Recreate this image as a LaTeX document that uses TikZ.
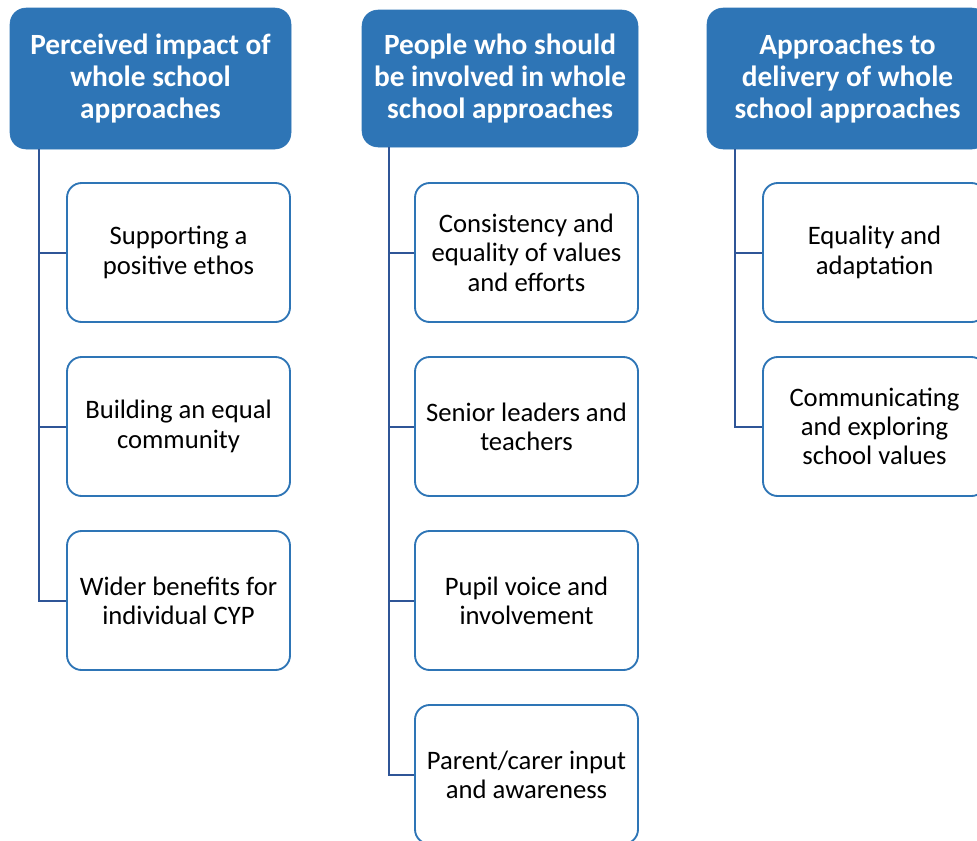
\documentclass[tikz,border=0pt]{standalone}
\usepackage{fontspec}
\setmainfont{Carlito}

\definecolor{headblue}{HTML}{2E75B6}
\definecolor{linkblue}{HTML}{2F5597}

\tikzset{
    headbox/.style={draw=headblue, fill=headblue, rounded corners=12pt,
        minimum width=210.75pt, minimum height=105.75pt, inner sep=0pt,
        align=center, text=white, font=\fontsize{22}{24}\selectfont\bfseries},
    itembox/.style={draw=headblue, line width=1.4pt, fill=white, rounded corners=11pt,
        minimum width=167.25pt, minimum height=104.25pt, inner sep=0pt,
        align=center, font=\fontsize{20}{22}\selectfont},
    link/.style={draw=linkblue, line width=1.5pt}
}

\begin{document}
\begin{tikzpicture}[x=0.75pt, y=-0.75pt]
    \clip (0,0) rectangle (977,840);
    \useasboundingbox (0,0) rectangle (977,840);

    % headings
    \node[headbox] (h1) at (150.5,78.5) {Perceived impact of\\whole school\\approaches};
    \node[headbox, minimum width=207pt, minimum height=102.75pt] (h2) at (500,78.5)
        {People who should\\be involved in whole\\school approaches};
    \node[headbox] (h3) at (847.5,78.5) {Approaches to\\delivery of whole\\school approaches};

    % first column
    \node[itembox] (a1) at (178.5,252.5) {Supporting a\\positive ethos};
    \node[itembox] (a2) at (178.5,426.5) {Building an equal\\community};
    \node[itembox] (a3) at (178.5,600.5) {Wider benefits for\\individual CYP};

    % second column
    \node[itembox] (b1) at (526.5,252.5) {Consistency and\\equality of values\\and efforts};
    \node[itembox] (b2) at (526.5,426.5) {Senior leaders and\\teachers};
    \node[itembox] (b3) at (526.5,600.5) {Pupil voice and\\involvement};
    \node[itembox] (b4) at (526.5,774.5) {Parent/carer input\\and awareness};

    % third column
    \node[itembox] (c1) at (874.5,252.5) {Equality and\\adaptation};
    \node[itembox] (c2) at (874.5,426.5) {Communicating\\and exploring\\school values};

    % stems under the headings
    \coordinate (ta) at (39,149);
    \coordinate (tb) at (389,147);
    \coordinate (tc) at (735,149);

    \foreach \n in {a1,a2,a3}
        \draw[link] (ta) |- (\n.west);
    \foreach \n in {b1,b2,b3,b4}
        \draw[link] (tb) |- (\n.west);
    \foreach \n in {c1,c2}
        \draw[link] (tc) |- (\n.west);
\end{tikzpicture}
\end{document}
